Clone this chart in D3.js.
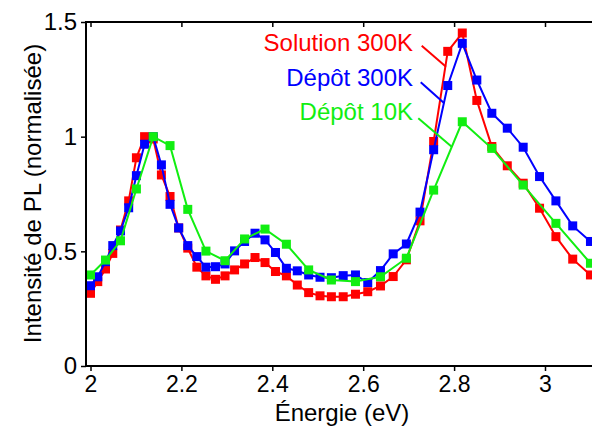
<!DOCTYPE html>
<html><head><meta charset="utf-8">
<script src="https://cdn.jsdelivr.net/npm/d3@7"></script>
<style>
body{margin:0;background:#fff;}
svg{display:block;font-family:"Liberation Sans",Arial,Helvetica,sans-serif;}
</style></head>
<body><svg id="c" width="592" height="426"></svg>
<script>
// Energy (eV) of the sampled points (5 nm steps for 300K series, 10 nm for 10K)
const energy5 = [2.000,2.016,2.033,2.049,2.066,2.084,2.101,2.119,2.138,2.156,2.175,2.194,2.214,2.234,2.254,2.275,2.296,2.317,2.339,2.362,2.384,2.407,2.431,2.455,2.480,2.505,2.530,2.556,2.583,2.610,2.638,2.666,2.695,2.725,2.755,2.786,2.818,2.850,2.883,2.917,2.952,2.988,3.024,3.061,3.100];
const energy10 = [2.000,2.033,2.066,2.101,2.138,2.175,2.214,2.254,2.296,2.339,2.384,2.431,2.480,2.530,2.583,2.638,2.695,2.755,2.818,2.883,2.952,3.024,3.100];

const solution300K = [0.317,0.368,0.423,0.491,0.593,0.720,0.908,1.000,0.990,0.833,0.739,0.602,0.514,0.431,0.393,0.378,0.393,0.419,0.445,0.473,0.451,0.412,0.393,0.353,0.320,0.306,0.302,0.302,0.313,0.324,0.349,0.390,0.463,0.633,0.979,1.372,1.452,1.158,0.957,0.873,0.797,0.688,0.564,0.466,0.397];
const depot300K = [0.350,0.389,0.455,0.525,0.589,0.690,0.830,0.967,1.000,0.877,0.705,0.602,0.525,0.477,0.431,0.433,0.445,0.502,0.543,0.579,0.550,0.495,0.426,0.415,0.397,0.387,0.385,0.394,0.397,0.364,0.416,0.489,0.532,0.671,0.943,1.223,1.407,1.247,1.102,1.037,0.954,0.826,0.720,0.611,0.543];
const depot10K = [0.397,0.462,0.546,0.772,1.000,0.961,0.683,0.501,0.459,0.554,0.597,0.531,0.419,0.375,0.368,0.389,0.470,0.767,1.065,0.949,0.789,0.622,0.448];

const seriesNames = ["Solution 300K","Dépôt 300K","Dépôt 10K"];
const xTicks = [2,2.2,2.4,2.6,2.8,3];
const xTickLabels = ["2","2.2","2.4","2.6","2.8","3"];
const yTicks = [0,0.5,1,1.5];
const yTickLabels = ["0","0.5","1","1.5"];

const colors = ["#ff0000","#0000ff","#11ee11"];
const svg = d3.select("#c");
const x = d3.scaleLinear().domain([2,3]).range([90.5,545]);
const y = d3.scaleLinear().domain([0,1.5]).range([366,22]);
const L = 86, R = 600, T = y(1.5), B = y(0);

svg.append("defs").append("clipPath").attr("id","clip")
  .append("rect").attr("x",L).attr("y",T-6).attr("width",R-L).attr("height",B-T+12);

const series = [
  {name:seriesNames[0], xs:energy5, ys:solution300K, color:colors[0]},
  {name:seriesNames[1], xs:energy5, ys:depot300K, color:colors[1]},
  {name:seriesNames[2], xs:energy10, ys:depot10K, color:colors[2]}
];

const g = svg.append("g").attr("clip-path","url(#clip)");
const line = d3.line().x(d=>x(d[0])).y(d=>y(d[1]));
series.forEach(s=>{
  const pts = s.xs.map((e,i)=>[e,s.ys[i]]);
  const sg = g.append("g");
  sg.append("path").datum(pts).attr("d",line).attr("fill","none")
    .attr("stroke",s.color).attr("stroke-width",2);
  sg.selectAll("rect").data(pts).join("rect")
    .attr("x",d=>x(d[0])-4.5).attr("y",d=>y(d[1])-4.5)
    .attr("width",9).attr("height",9).attr("fill",s.color);
});

// Axes
const fs = 24;
const xb = svg.append("g").attr("transform",`translate(0,${B})`)
  .call(d3.axisBottom(x).tickValues(xTicks).tickFormat((d,i)=>xTickLabels[i]).tickSize(5).tickPadding(5));
const xt = svg.append("g").attr("transform",`translate(0,${T})`)
  .call(d3.axisTop(x).tickValues(xTicks).tickFormat("").tickSize(-5));
const yl = svg.append("g").attr("transform",`translate(${L},0)`)
  .call(d3.axisLeft(y).tickValues(yTicks).tickFormat((d,i)=>yTickLabels[i]).tickSize(5).tickPadding(4));
[xb,xt,yl].forEach(a=>{
  a.select(".domain").remove();
  a.selectAll(".tick line").attr("stroke","#000").attr("stroke-width",1.5);
  a.selectAll(".tick text").attr("font-size",fs).attr("fill","#000")
    .attr("font-family","'Liberation Sans',Arial,sans-serif");
});
xb.selectAll(".tick text").attr("font-size",23);
// frame
svg.append("path").attr("d",`M${R},${T}H${L}V${B}H${R}`).attr("fill","none")
  .attr("stroke","#000").attr("stroke-width",2);

svg.append("text").attr("x",342).attr("y",421).attr("text-anchor","middle")
  .attr("font-size",fs).text("Énergie (eV)");
svg.append("text").attr("transform","translate(41,193.5) rotate(-90)").attr("text-anchor","middle")
  .attr("font-size",fs).text("Intensité de PL (normalisée)");

// Legend labels with leader lines
const legBase = [51,86,120];
const leaders = [[421.7,45.7,446,66.7],[420.7,82.3,444.3,103.3],[418.3,118.3,451.7,146.7]];
series.forEach((s,i)=>{
  svg.append("text").attr("x",413).attr("y",legBase[i]).attr("text-anchor","end")
    .attr("font-size",fs).attr("fill",s.color).text(s.name);
  svg.append("line").attr("x1",leaders[i][0]).attr("y1",leaders[i][1])
    .attr("x2",leaders[i][2]).attr("y2",leaders[i][3])
    .attr("stroke",s.color).attr("stroke-width",2);
});
</script></body></html>
